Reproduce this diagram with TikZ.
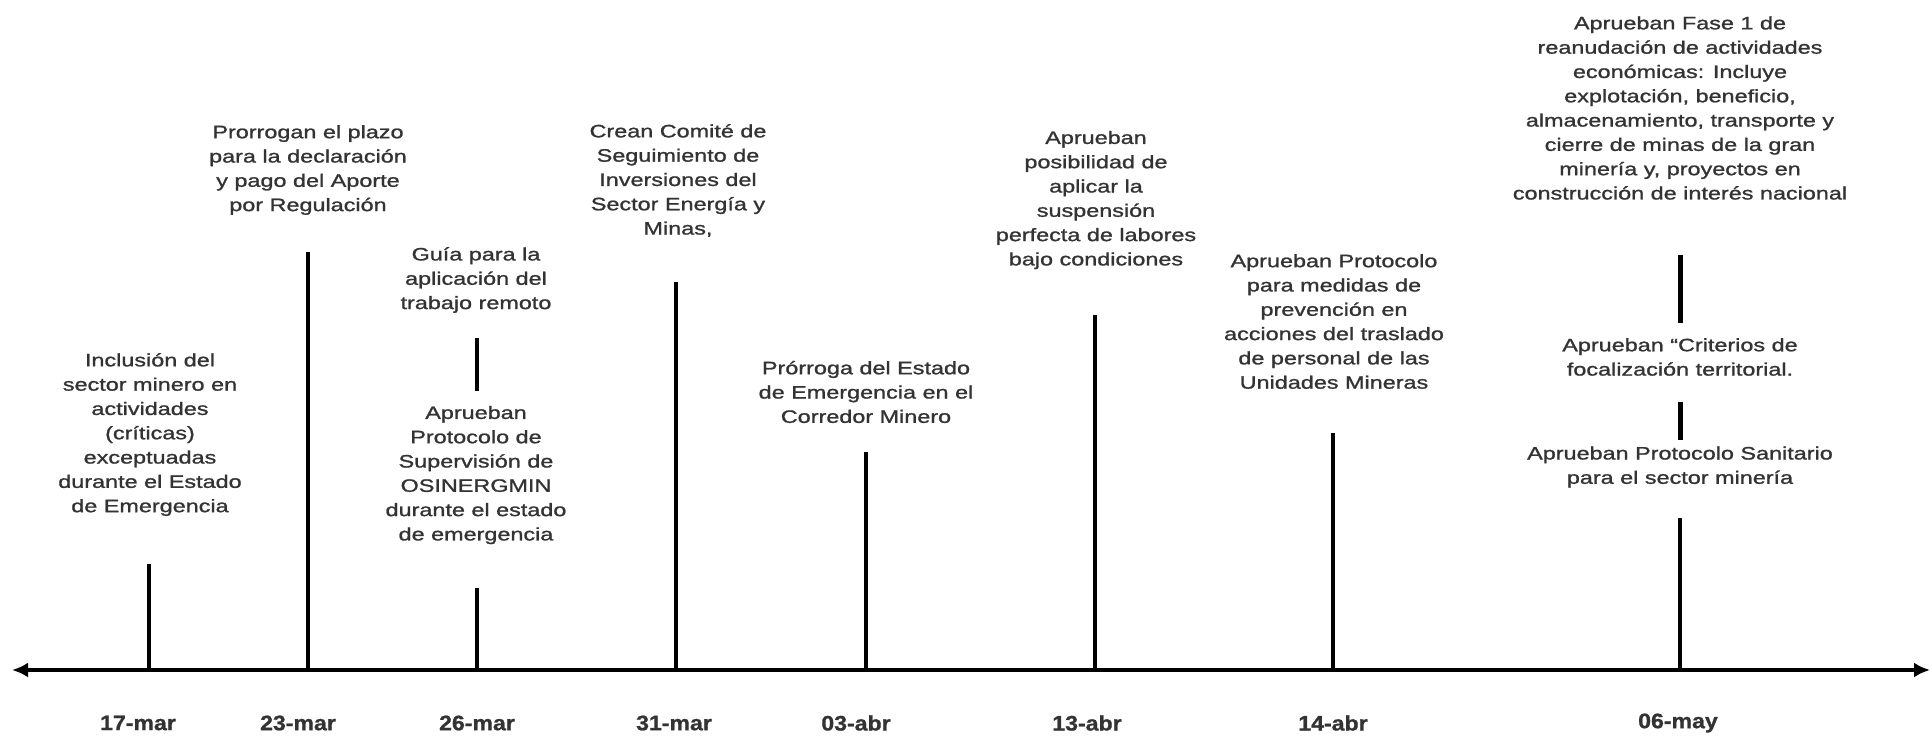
\documentclass[tikz,border=0pt]{standalone}
\usepackage{fontspec}
\setmainfont{Liberation Sans}
\newfontfamily\bodyfont[FakeStretch=1.3,FakeBold=1.2]{Liberation Sans}
\newfontfamily\datefont[FakeStretch=1.1,FakeBold=1]{Liberation Sans}
\usetikzlibrary{arrows.meta}
\tikzset{
  evt/.style={font=\bodyfont\fontsize{18}{24.3}\selectfont, align=center, text=black!80, inner sep=0pt},
  dlabel/.style={font=\datefont\bfseries\fontsize{21}{23}\selectfont, text=black!80, inner sep=0pt},
  tickline/.style={line width=4pt, black},
  segline/.style={line width=5pt, black},
  axisline/.style={line width=4.5pt, black, {Latex[length=16pt,width=15pt]}-{Latex[length=16pt,width=15pt]}}
}
\begin{document}
\begin{tikzpicture}[x=1pt,y=-1pt]
\useasboundingbox (0,0) rectangle (1932,736);
% axis
\coordinate (L) at (12,670);
\coordinate (R) at (1930,670);
\draw[axisline] (L) -- (R);
% tick base points
\coordinate (b1) at (149,670);
\coordinate (b2) at (308,670);
\coordinate (b3) at (477,670);
\coordinate (b4) at (676,670);
\coordinate (b5) at (866,670);
\coordinate (b6) at (1095,670);
\coordinate (b7) at (1333,670);
\coordinate (b8) at (1680,670);
% tick tops
\coordinate (t1) at (149,564);
\coordinate (t2) at (308,252);
\coordinate (t3) at (477,588);
\coordinate (t4) at (676,282);
\coordinate (t5) at (866,452);
\coordinate (t6) at (1095,315);
\coordinate (t7) at (1333,433);
\coordinate (t8) at (1680,518);
\draw[tickline] (b1) -- (t1);
\draw[tickline] (b2) -- (t2);
\draw[tickline] (b3) -- (t3);
\draw[tickline] (b4) -- (t4);
\draw[tickline] (b5) -- (t5);
\draw[tickline] (b6) -- (t6);
\draw[tickline] (b7) -- (t7);
\draw[tickline] (b8) -- (t8);
% short segments between texts
\coordinate (s3a) at (477,338);
\coordinate (s3b) at (477,391);
\draw[tickline] (s3a) -- (s3b);
\coordinate (s8a) at (1680,255);
\coordinate (s8b) at (1680,323);
\draw[segline] (s8a) -- (s8b);
\coordinate (s8c) at (1680,402);
\coordinate (s8d) at (1680,440);
\draw[segline] (s8c) -- (s8d);
% event texts
\node[evt] (e1) at (150,434.5) {Inclusión del\\sector minero en\\actividades\\(críticas)\\exceptuadas\\durante el Estado\\de Emergencia};
\node[evt] (e2) at (308,170) {Prorrogan el plazo\\para la declaración\\y pago del Aporte\\por Regulación};
\node[evt] (e3) at (476,280) {Guía para la\\aplicación del\\trabajo remoto};
\node[evt] (e4) at (476,475) {Aprueban\\Protocolo de\\Supervisión de\\OSINERGMIN\\durante el estado\\de emergencia};
\node[evt] (e5) at (678,180.5) {Crean Comité de\\Seguimiento de\\Inversiones del\\Sector Energía y\\Minas,};
\node[evt] (e6) at (866,392) {Prórroga del Estado\\de Emergencia en el\\Corredor Minero};
\node[evt] (e7) at (1096,200) {Aprueban\\posibilidad de\\aplicar la\\suspensión\\perfecta de labores\\bajo condiciones};
\node[evt] (e8) at (1334,321.5) {Aprueban Protocolo\\para medidas de\\prevención en\\acciones del traslado\\de personal de las\\Unidades Mineras};
\node[evt] (e9) at (1680,108) {Aprueban Fase 1 de\\reanudación de actividades\\económicas: Incluye\\explotación, beneficio,\\almacenamiento, transporte y\\cierre de minas de la gran\\minería y, proyectos en\\construcción de interés nacional};
\node[evt] (e10) at (1680,357) {Aprueban “Criterios de\\focalización territorial.};
\node[evt] (e11) at (1680,467) {Aprueban Protocolo Sanitario\\para el sector minería};
% date labels
\node[dlabel] (d1) at (138,723) {17-mar};
\node[dlabel] (d2) at (298,723) {23-mar};
\node[dlabel] (d3) at (477,723) {26-mar};
\node[dlabel] (d4) at (674,723) {31-mar};
\node[dlabel] (d5) at (856,723) {03-abr};
\node[dlabel] (d6) at (1087,723) {13-abr};
\node[dlabel] (d7) at (1333,723) {14-abr};
\node[dlabel] (d8) at (1678,723) {06-may};
\end{tikzpicture}
\end{document}
